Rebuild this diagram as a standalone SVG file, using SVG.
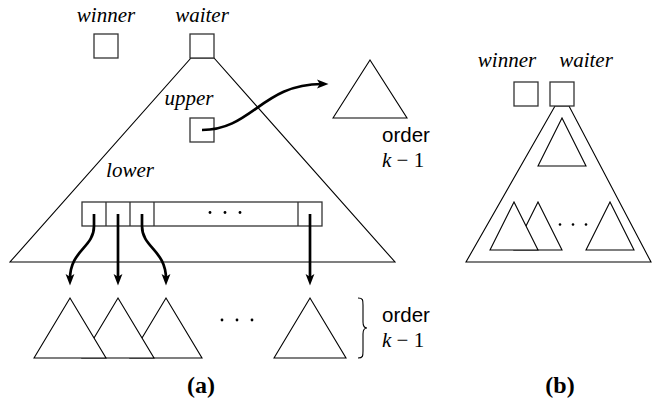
<svg xmlns="http://www.w3.org/2000/svg" width="652" height="400" viewBox="0 0 652 400">
<style>
.bg{fill:#fff}
.ln{fill:none;stroke:#000;stroke-width:1.1}
.tri{fill:#fff;stroke:#000;stroke-width:1.1;stroke-linejoin:miter}
.box{fill:#fff;stroke:#333;stroke-width:1.3}
.arr{fill:none;stroke:#000;stroke-width:2.7;marker-end:url(#ah)}
.it{font-family:"Liberation Serif",serif;font-style:italic;font-size:21px;fill:#000}
.sans{font-family:"Liberation Sans",Arial,sans-serif;font-size:20.5px;fill:#000}
.ser{font-family:"Liberation Serif",serif;font-size:21px;fill:#000}
.cap{font-family:"Liberation Serif",serif;font-weight:bold;font-size:24px;fill:#000}
.dot{fill:#000}
</style>
<defs>
<marker id="ah" viewBox="0 0 12 10" refX="5" refY="5" markerWidth="12" markerHeight="10" markerUnits="userSpaceOnUse" orient="auto">
<path d="M0,0.6 L11.5,5 L0,9.4 L2.8,5 Z" fill="#000"/>
</marker>
</defs>
<rect class="bg" x="0" y="0" width="652" height="400"/>

<g id="part-a">
<g id="big-tree">
<polygon class="tri" points="191,58 214,58 395,262 10,262"/>
<text class="it" x="189" y="105" text-anchor="middle">upper</text>
<text class="it" x="130" y="177" text-anchor="middle">lower</text>
</g>
<g id="winner-a">
<text class="it" x="106" y="22" text-anchor="middle">winner</text>
<rect class="box" x="94" y="34" width="24" height="24"/>
</g>
<g id="waiter-a">
<text class="it" x="202" y="22" text-anchor="middle">waiter</text>
<rect class="box" x="190" y="34" width="24" height="24"/>
</g>
<g id="upper-node">
<rect class="box" x="190" y="118" width="24" height="24"/>
</g>
<g id="array">
<rect class="box" x="82" y="202" width="240" height="24"/>
<line class="box" x1="106" y1="202" x2="106" y2="226"/>
<line class="box" x1="130" y1="202" x2="130" y2="226"/>
<line class="box" x1="154" y1="202" x2="154" y2="226"/>
<line class="box" x1="298" y1="202" x2="298" y2="226"/>
<circle class="dot" cx="210" cy="212.5" r="1.4"/>
<circle class="dot" cx="225" cy="212.5" r="1.4"/>
<circle class="dot" cx="240" cy="212.5" r="1.4"/>
</g>
<g id="order-right">
<polygon class="tri" points="333,118 370,60 407,118"/>
<text class="sans" x="382" y="142">order</text>
<text x="382" y="167"><tspan class="it">k</tspan><tspan class="ser"> − 1</tspan></text>
</g>
<g id="subtrees">
<polygon class="tri" points="130,358 166,298 202,358"/>
<polygon class="tri" points="82,358 118,298 154,358"/>
<polygon class="tri" points="34,358 70,298 106,358"/>
<polygon class="tri" points="274,358 310,298 346,358"/>
<circle class="dot" cx="222" cy="320" r="1.4"/>
<circle class="dot" cx="237" cy="320" r="1.4"/>
<circle class="dot" cx="252" cy="320" r="1.4"/>
</g>
<g id="brace-label">
<path class="ln" d="M358,298 C363,298 363,300 363,305 L363,322 C363,326 364,328 367,328 C364,328 363,330 363,334 L363,351 C363,356 363,358 358,358"/>
<text class="sans" x="382" y="322">order</text>
<text x="382" y="347"><tspan class="it">k</tspan><tspan class="ser"> − 1</tspan></text>
</g>
<text class="cap" x="201" y="393" text-anchor="middle">(a)</text>
</g>

<g id="connectors">
<path class="arr" d="M202,130 C252,130 262,84 322,84"/>
<path class="arr" d="M94,214 L94,226 C94,248 70,250 70,279"/>
<path class="arr" d="M118,214 L118,279"/>
<path class="arr" d="M142,214 L142,226 C142,248 166,250 166,279"/>
<path class="arr" d="M310,214 L310,279"/>
</g>

<g id="part-b">
<g id="tree-b">
<polygon class="tri" points="555,106 569,106 651,262 466,262"/>
<polygon class="tri" points="538,166 562,118 586,166"/>
<polygon class="tri" points="514,250 538,202 562,250"/>
<polygon class="tri" points="490,250 514,202 538,250"/>
<polygon class="tri" points="586,250 610,202 634,250"/>
<circle class="dot" cx="560" cy="224.5" r="1.3"/>
<circle class="dot" cx="573" cy="224.5" r="1.3"/>
<circle class="dot" cx="586" cy="224.5" r="1.3"/>
</g>
<g id="winner-b">
<text class="it" x="507" y="67" text-anchor="middle">winner</text>
<rect class="box" x="514" y="82" width="24" height="24"/>
</g>
<g id="waiter-b">
<text class="it" x="586" y="67" text-anchor="middle">waiter</text>
<rect class="box" x="550" y="82" width="24" height="24"/>
</g>
<text class="cap" x="560" y="393" text-anchor="middle">(b)</text>
</g>
</svg>
